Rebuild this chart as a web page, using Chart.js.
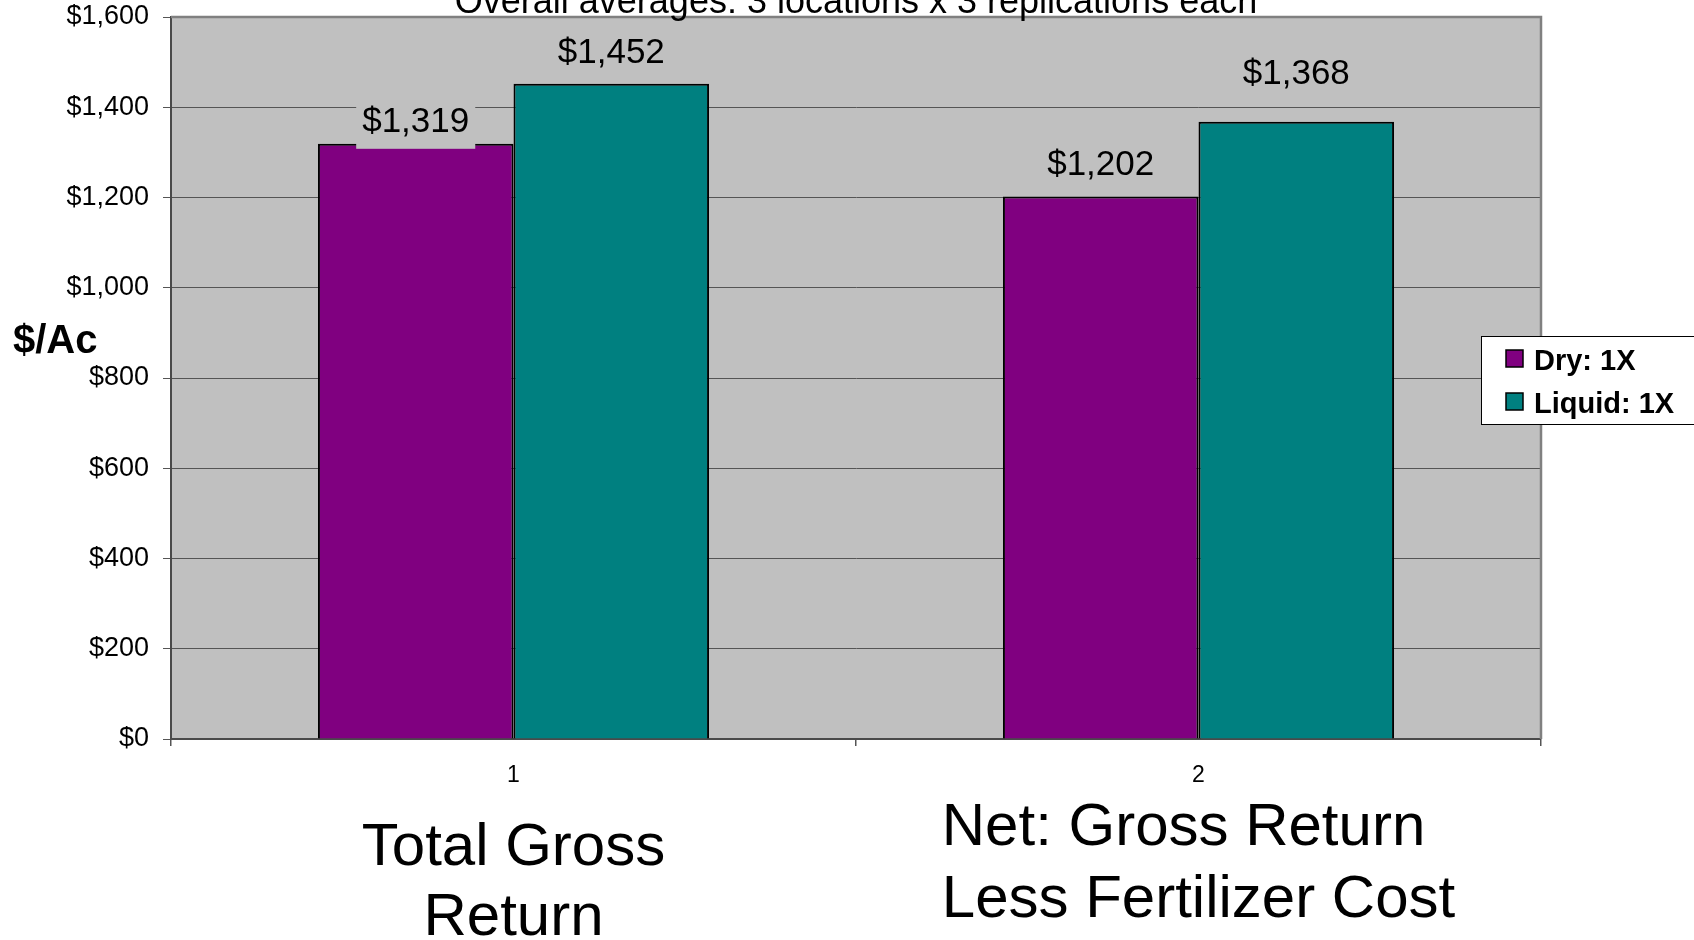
<!DOCTYPE html>
<html>
<head>
<meta charset="utf-8">
<script src="https://cdn.jsdelivr.net/npm/chart.js@4.4.1/dist/chart.umd.min.js"></script>
<style>
    html, body { margin: 0; padding: 0; background: #ffffff; }
    #wrap { width: 1694px; height: 940px; }
</style>
</head>
<body>
<div id="wrap"><canvas id="chartRetorno" width="1694" height="940"></canvas></div>
<script>
// ============================================
// Datos del gráfico
// ============================================
const categories = ['1', '2'];
const seriesNames = ['Dry: 1X', 'Liquid: 1X'];
const dryValues = [1319, 1202];
const liquidValues = [1452, 1368];
const yMin = 0;
const yMax = 1600;
const yStep = 200;
const chartTitle = 'Overall averages: 3 locations x 3 replications each';
const yAxisTitle = '$/Ac';
const categoryCaptions = [
    ['Total Gross', 'Return'],
    ['Net: Gross Return', 'Less Fertilizer Cost']
];

// Colores del tema
const colors = {
    dry: '#800080',
    liquid: '#008080',
    plot: '#c0c0c0',
    frame: '#808080',
    axis: '#4a4a4a',
    grid: '#555555',
    text: '#000000'
};

const FONT = '"Liberation Sans", Arial, Helvetica, sans-serif';

const money = v => '$' + Number(v).toLocaleString('en-US');

// Fondo del área de trazado y marco gris
const plotFrame = {
    id: 'plotFrame',
    beforeDraw(chart) {
        const { ctx, chartArea: a } = chart;
        ctx.save();
        ctx.fillStyle = colors.plot;
        ctx.fillRect(a.left, a.top, a.right - a.left, a.bottom - a.top);
        ctx.restore();
    },
    beforeDatasetsDraw(chart) {
        const { ctx, chartArea: a } = chart;
        ctx.save();
        ctx.strokeStyle = colors.frame;
        ctx.lineWidth = 2.5;
        ctx.beginPath();
        ctx.moveTo(a.left, a.top);
        ctx.lineTo(a.right, a.top);
        ctx.lineTo(a.right, a.bottom);
        ctx.stroke();
        ctx.restore();
    }
};

// Etiquetas de valor encima de cada barra (con caja del color del fondo)
const valueLabels = {
    id: 'valueLabels',
    afterDatasetsDraw(chart, args, opts) {
        const { ctx } = chart;
        ctx.save();
        ctx.font = '35px ' + FONT;
        ctx.textAlign = 'center';
        ctx.textBaseline = 'alphabetic';
        chart.data.datasets.forEach((ds, di) => {
            const meta = chart.getDatasetMeta(di);
            meta.data.forEach((bar, i) => {
                const text = money(ds.data[i]);
                const base = bar.y - opts.gaps[di][i];
                const w = ctx.measureText(text).width;
                ctx.fillStyle = colors.plot;
                ctx.fillRect(bar.x - w / 2 - 6, base - 42, w + 12, 59);
                ctx.fillStyle = colors.text;
                ctx.fillText(text, bar.x, base);
            });
        });
        ctx.restore();
    }
};

// Título, título del eje Y, leyenda y rótulos de categoría
const decorations = {
    id: 'decorations',
    afterDraw(chart, args, opts) {
        const { ctx, chartArea: a } = chart;
        const xScale = chart.scales.x;
        ctx.save();
        ctx.fillStyle = colors.text;

        // Título (recortado arriba como en el original)
        ctx.font = '36px ' + FONT;
        ctx.textAlign = 'center';
        ctx.fillText(chartTitle, (a.left + a.right) / 2, 12.5);

        // Título del eje Y
        ctx.font = 'bold 40px ' + FONT;
        ctx.textAlign = 'left';
        ctx.fillText(yAxisTitle, 13, 353);

        // Rótulos grandes debajo de cada categoría
        ctx.font = '60px ' + FONT;
        categoryCaptions.forEach((lines, i) => {
            const cx = xScale.getPixelForValue(i);
            const style = opts.captions[i];
            if (style.align === 'center') {
                ctx.textAlign = 'center';
                lines.forEach((t, k) => ctx.fillText(t, cx, style.baselines[k]));
            } else {
                const wMax = Math.max(...lines.map(t => ctx.measureText(t).width));
                ctx.textAlign = 'left';
                lines.forEach((t, k) => ctx.fillText(t, cx - wMax / 2, style.baselines[k]));
            }
        });

        // Leyenda
        const lg = opts.legend;
        ctx.fillStyle = '#ffffff';
        ctx.fillRect(lg.x, lg.y, lg.w, lg.h);
        ctx.strokeStyle = '#000000';
        ctx.lineWidth = 1;
        ctx.strokeRect(lg.x + 0.5, lg.y + 0.5, lg.w, lg.h);
        ctx.font = 'bold 29px ' + FONT;
        ctx.textAlign = 'left';
        chart.data.datasets.forEach((ds, di) => {
            const base = lg.y + lg.firstBaseline + di * lg.rowGap;
            ctx.fillStyle = ds.backgroundColor;
            ctx.fillRect(lg.x + 25, base - 20, 17, 17);
            ctx.strokeStyle = '#000000';
            ctx.lineWidth = 1.5;
            ctx.strokeRect(lg.x + 25, base - 20, 17, 17);
            ctx.fillStyle = colors.text;
            ctx.fillText(ds.label, lg.x + 53, base);
        });
        ctx.restore();
    }
};

const ctx = document.getElementById('chartRetorno');

new Chart(ctx, {
    type: 'bar',
    data: {
        labels: categories,
        datasets: [
            {
                label: seriesNames[0],
                data: dryValues,
                backgroundColor: colors.dry,
                borderColor: '#000000',
                borderWidth: 2
            },
            {
                label: seriesNames[1],
                data: liquidValues,
                backgroundColor: colors.liquid,
                borderColor: '#000000',
                borderWidth: 2
            }
        ]
    },
    options: {
        responsive: false,
        devicePixelRatio: 1,
        animation: false,
        datasets: {
            bar: {
                categoryPercentage: 0.571,
                barPercentage: 1
            }
        },
        layout: {
            padding: { top: 17, right: 153, bottom: 141, left: 0 }
        },
        plugins: {
            legend: { display: false },
            tooltip: { enabled: false },
            valueLabels: {
                gaps: [[12, 22], [21, 38]]
            },
            decorations: {
                captions: [
                    { align: 'center', baselines: [865, 935] },
                    { align: 'left', baselines: [845, 917] }
                ],
                legend: { x: 1481, y: 336, w: 240, h: 88, firstBaseline: 34, rowGap: 43 }
            }
        },
        scales: {
            x: {
                offset: true,
                afterFit(scale) { scale.height = 60; },
                grid: {
                    display: true,
                    drawOnChartArea: false,
                    drawTicks: true,
                    tickLength: 7,
                    color: colors.grid,
                    lineWidth: 1.5
                },
                border: { display: true, color: colors.axis, width: 2 },
                ticks: {
                    color: colors.text,
                    padding: 16,
                    font: { family: FONT, size: 23 }
                }
            },
            y: {
                min: yMin,
                max: yMax,
                afterFit(scale) {
                    scale.width = 171;
                    // la etiqueta $1,600 puede salirse por arriba como en el original
                    scale.paddingTop = 0;
                    scale.paddingBottom = 0;
                },
                grid: {
                    color: colors.grid,
                    lineWidth: 1,
                    tickLength: 8
                },
                border: { display: true, color: colors.axis, width: 2 },
                ticks: {
                    stepSize: yStep,
                    color: colors.text,
                    padding: 14,
                    font: { family: FONT, size: 27 },
                    callback: v => money(v)
                }
            }
        }
    },
    plugins: [plotFrame, valueLabels, decorations]
});
</script>
</body>
</html>
